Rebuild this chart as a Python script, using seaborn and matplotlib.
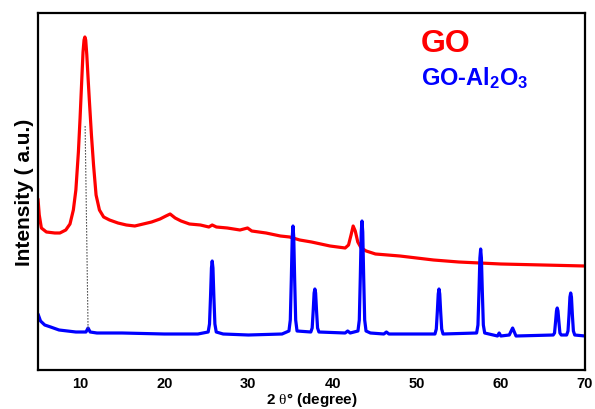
import numpy as np
import pandas as pd
import matplotlib
matplotlib.use("Agg")
import matplotlib.pyplot as plt
import seaborn as sns

# ---- data ----
go_x = [5.0, 5.15, 5.4, 6.0, 7.0, 7.6, 8.3, 8.8, 9.2, 9.5, 9.8, 10.0, 10.2, 10.35, 10.47,
        10.57, 10.67, 10.8, 10.95, 11.1, 11.35, 11.6, 11.9, 12.3, 12.8, 13.5, 14.5, 15.5,
        16.5, 17.5, 18.5, 19.5, 20.2, 20.7, 21.3, 22.0, 23.0, 24.3, 25.3, 25.7, 26.2, 27.5,
        29.0, 29.9, 30.4, 32.1, 33.8, 34.9, 36.1, 37.5, 39.7, 41.5, 41.9, 42.2, 42.45, 42.7,
        43.0, 43.4, 44.0, 45.1, 48.0, 50.0, 52.0, 55.0, 57.5, 60.0, 65.0, 70.0]
go_y = [171, 155, 142, 138, 137, 137, 140, 146, 160, 180, 218, 252, 290, 318, 330,
        333, 330, 315, 292, 270, 235, 205, 175, 160, 153, 150, 147, 145,
        144, 146, 148, 151, 154, 156, 152, 149, 146, 145, 143, 145, 143, 142,
        140, 142, 139, 137, 134, 133, 130, 128, 124, 122, 125, 135, 144, 139,
        128, 122, 119, 116, 114, 112, 110, 108, 107, 106, 105, 104]

goal_x = [5.0, 5.3, 5.8, 6.5, 7.5, 8.5, 9.5, 10.7, 10.95, 11.2, 12.0, 15.0, 20.0, 24.0,
          25.22, 25.38, 25.5, 25.61, 25.7, 25.79, 25.9, 26.02, 26.18, 27.0, 30.0, 34.0,
          34.82, 34.98, 35.1, 35.21, 35.3, 35.39, 35.5, 35.62, 35.78,
          37.42, 37.58, 37.7, 37.81, 37.9, 37.99, 38.1, 38.22, 38.38,
          41.5, 41.8, 42.1,
          43.02, 43.18, 43.3, 43.41, 43.5, 43.59, 43.7, 43.82, 43.98, 44.5,
          46.1, 46.4, 46.7,
          52.17, 52.33, 52.45, 52.56, 52.65, 52.74, 52.85, 52.97, 53.13,
          57.12, 57.28, 57.4, 57.51, 57.6, 57.69, 57.8, 57.92, 58.08,
          59.6, 59.8, 60.0, 61.0, 61.4, 61.8,
          66.22, 66.38, 66.5, 66.61, 66.7, 66.79, 66.9, 67.02, 67.18,
          67.82, 67.98, 68.1, 68.21, 68.3, 68.39, 68.5, 68.62, 68.78, 70.0]
goal_y = [56, 49, 45, 43, 40, 39, 38, 38, 42, 38, 37, 37, 36, 36,
          38, 46, 73, 102, 109, 102, 73, 46, 38, 36, 35, 36,
          39, 50, 90, 133, 144, 133, 90, 50, 39,
          38, 42, 59, 77, 81, 77, 59, 42, 38,
          37, 39, 37,
          39, 50, 93, 138, 149, 138, 93, 50, 39, 37,
          36, 38, 36,
          36, 41, 58, 76, 81, 76, 58, 41, 36,
          37, 45, 78, 112, 121, 112, 78, 45, 37,
          34, 37, 34, 35, 42, 34,
          35, 37, 48, 59, 62, 59, 48, 37, 35,
          35, 39, 55, 73, 77, 73, 55, 39, 35, 34]

guide_x = [10.6, 10.95]
guide_y = [244, 40]

x_ticks = [10, 20, 30, 40, 50, 60, 70]
series_labels = ["GO", r"GO-Al$_{\mathbf{2}}$O$_{\mathbf{3}}$"]
series_colors = ["#ff0000", "#0000ff"]

# ---- style ----
sns.set_theme(style="white")
plt.rcParams["font.family"] = ["Liberation Sans", "DejaVu Sans"]
plt.rcParams["mathtext.fontset"] = "custom"
plt.rcParams["mathtext.rm"] = "Liberation Serif"
plt.rcParams["mathtext.bf"] = "Liberation Sans:bold"
plt.rcParams["mathtext.it"] = "Liberation Serif"
plt.rcParams["text.color"] = "black"
plt.rcParams["axes.labelcolor"] = "black"
plt.rcParams["xtick.color"] = "black"

fig = plt.figure(figsize=(5.95, 4.10), dpi=100)
ax = fig.add_axes([38 / 595, 39 / 410, 547 / 595, 357 / 410])

df_go = pd.DataFrame({"x": go_x, "y": go_y})
df_goal = pd.DataFrame({"x": goal_x, "y": goal_y})

sns.lineplot(data=df_go, x="x", y="y", color=series_colors[0], linewidth=2.3, ax=ax)
sns.lineplot(data=df_goal, x="x", y="y", color=series_colors[1], linewidth=2.3, ax=ax)
ax.plot(guide_x, guide_y, linestyle=(0, (1.5, 1.2)), color="#555555", linewidth=0.8)

ax.set_xlim(5, 70)
ax.set_ylim(0, 357)
ax.set_xticks(x_ticks)
ax.set_xticklabels([str(t) for t in x_ticks], fontsize=10.5, fontweight="bold", color="black")
ax.set_yticks([])
ax.tick_params(axis="x", length=0, pad=4)

for s in ax.spines.values():
    s.set_color("black")
    s.set_linewidth(1.6)

ax.set_xlabel(r"2 $\mathrm{\theta}$° (degree)", fontsize=11, fontweight="bold", color="black")
ax.xaxis.set_label_coords(0.5, (1 - 39) / 357)
ax.xaxis.label.set_va("bottom")
ax.set_ylabel("Intensity ( a.u.)", fontsize=15, fontweight="bold", labelpad=3, color="black")

ax.text(0.70, 0.915, series_labels[0], transform=ax.transAxes, color=series_colors[0],
        fontsize=23, fontweight="bold", ha="left", va="center")
ax.text(0.70, 0.82, series_labels[1], transform=ax.transAxes, color=series_colors[1],
        fontsize=17, fontweight="bold", ha="left", va="center")

fig.savefig("out.png", dpi=100)
